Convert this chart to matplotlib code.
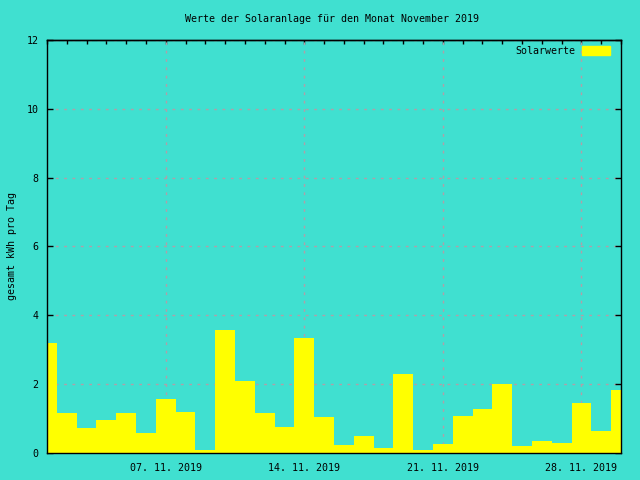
import matplotlib
matplotlib.use('Agg')
import matplotlib.pyplot as plt
import matplotlib.patches as mpatches

# Tageswerte November 2019 (kWh)
days = list(range(1, 31))
werte = [3.20, 1.17, 0.74, 0.95, 1.17, 0.57, 1.57, 1.20, 0.10, 3.57,
         2.10, 1.17, 0.76, 3.34, 1.05, 0.24, 0.50, 0.15, 2.30, 0.09,
         0.26, 1.07, 1.28, 2.00, 0.20, 0.35, 0.29, 1.45, 0.64, 1.83]
tick_days = [7, 14, 21, 28]
tick_labels = ['07. 11. 2019', '14. 11. 2019', '21. 11. 2019', '28. 11. 2019']
y_ticks = [0, 2, 4, 6, 8, 10, 12]

bg = '#40e0d0'
plt.rcParams['font.family'] = ['DejaVu Sans Mono']
plt.rcParams['font.size'] = 7.2

fig = plt.figure(figsize=(6.4, 4.8), dpi=100, facecolor=bg)
ax = fig.add_axes([47/640, 27/480, 574/640, 413/480], facecolor=bg)

ax.bar(days, werte, width=1.0, align='center', color='#ffff00', linewidth=0, zorder=2)

ax.set_xlim(1, 30)
ax.set_ylim(0, 12)
ax.set_xticks(tick_days)
ax.set_xticklabels(tick_labels)
ax.set_yticks(y_ticks)
ax.set_yticklabels([str(v) for v in y_ticks])

ax.tick_params(axis='x', length=0, pad=7)
ax.tick_params(axis='y', direction='in', length=4, right=True, pad=6, width=1)

# tägliche Ticks oben
top = ax.secondary_xaxis('top')
top.set_xticks(days)
top.set_xticklabels([])
top.tick_params(direction='in', length=3, width=1)

ax.grid(True, color='#b0a0a8', linestyle=(0, (2, 4)), linewidth=1, zorder=1)
for s in ax.spines.values():
    s.set_linewidth(1.0)
    s.set_zorder(3)
top.spines['top'].set_linewidth(1.0)

fig.text(332/640, 1 - 19/480, 'Werte der Solaranlage für den Monat November 2019',
         ha='center', va='center')
fig.text(12/640, 1 - 246/480, 'gesamt kWh pro Tag', rotation=90,
         ha='center', va='center')

leg = ax.legend(handles=[mpatches.Patch(color='#ffff00', label='Solarwerte')],
                loc='upper right', bbox_to_anchor=(610/640, 1 - 46/480),
                bbox_transform=fig.transFigure, frameon=False,
                handlelength=2.8, handleheight=0.9, markerfirst=False,
                handletextpad=0.7, borderaxespad=0, borderpad=0)

fig.savefig('out.png', dpi=100, facecolor=bg)
